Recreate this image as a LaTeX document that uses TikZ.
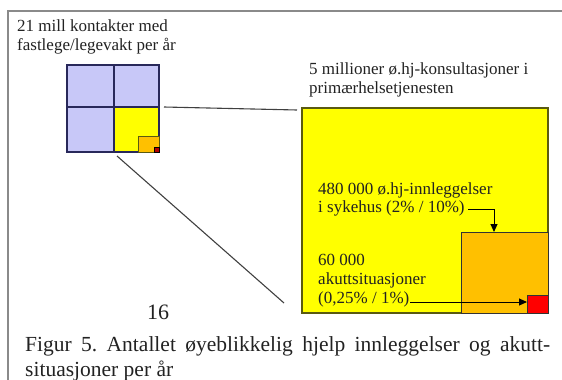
\documentclass[tikz,border=0pt]{standalone}
\usepackage{fontspec}
\setmainfont{Liberation Serif}
\usetikzlibrary{arrows.meta}
\frenchspacing
\definecolor{lav}{HTML}{C8C8F8}
\definecolor{navy}{HTML}{28285A}
\definecolor{ylw}{HTML}{FFFF00}
\definecolor{org}{HTML}{FFC000}
\definecolor{rd}{HTML}{FF0000}
\definecolor{olive}{HTML}{5A5A10}
\definecolor{framegray}{HTML}{8A8A8A}
\definecolor{txt}{HTML}{222222}
\tikzset{
  box/.style={anchor=north west, inner sep=0pt, outer sep=0pt},
  quad/.style={box, draw=navy, line width=1.3pt, fill=lav},
  lbl/.style={anchor=base west, inner sep=0pt, align=left, text=txt,
              font=\fontsize{17}{19}\selectfont},
  capt/.style={anchor=base west, inner sep=0pt, text=txt,
              font=\fontsize{21.5}{26}\selectfont},
  conn/.style={draw=black!75, line width=1.1pt},
  arr/.style={draw=black, line width=1pt, -{Triangle[length=8pt,width=7pt]}}
}
\begin{document}
\begin{tikzpicture}[x=1pt,y=-1pt]
\useasboundingbox (0,0) rectangle (562,380);
% frame
\coordinate (ftr) at (562,11);
\coordinate (ftl) at (8,11);
\coordinate (fbl) at (8,380);
\draw[framegray, line width=1.2pt] (ftr) -- (ftl) -- (fbl);

% small square
\node[quad, minimum width=47pt, minimum height=42pt] (q1) at (67,65) {};
\node[quad, minimum width=45pt, minimum height=42pt] (q2) at (114,65) {};
\node[quad, minimum width=47pt, minimum height=45pt] (q3) at (67,107) {};
\node[quad, minimum width=45pt, minimum height=45pt, fill=ylw] (q4) at (114,107) {};
\node[box, draw=olive, line width=0.8pt, fill=org, minimum width=21pt, minimum height=16pt] (so) at (138,136) {};
\node[box, draw=black, line width=0.6pt, fill=rd!70!black, minimum width=5pt, minimum height=5pt] (sr) at (154,147) {};

% big squares
\node[box, draw=olive, line width=1.2pt, fill=ylw, minimum width=246pt, minimum height=205pt] (big) at (302,108) {};
\node[box, draw=black!80, line width=1pt, fill=org, minimum width=87pt, minimum height=81pt] (bo) at (461,232) {};
\node[box, draw=black!80, line width=0.8pt, fill=rd, minimum width=21pt, minimum height=18pt] (br) at (527,295) {};

% connectors between small and big
\coordinate (l1a) at (164,107);
\coordinate (l1b) at (297,110);
\draw[conn] (l1a) -- (l1b);
\coordinate (l2a) at (117,156);
\coordinate (l2b) at (284,303);
\draw[conn] (l2a) -- (l2b);

% labels (anchor = baseline of the last line)
\node[lbl] (la) at (17,50) {21 mill kontakter med\\fastlege/legevakt per år};
\node[lbl] (lb) at (309,93) {5 millioner ø.hj-konsultasjoner i\\primærhelsetjenesten};
\node[lbl, font=\fontsize{17}{17.5}\selectfont] (lc) at (318,212) {480 000 ø.hj-innleggelser\\i sykehus (2\% / 10\%)};
\node[lbl] (ld) at (318,303) {60 000\\akuttsituasjoner\\(0,25\% / 1\%)};

% arrows
\coordinate (cs) at (468,209);
\coordinate (ct) at (494,232);
\draw[arr] (cs) -| (ct);
\coordinate (ds) at (410,302);
\draw[arr] (ds) -- (ds -| br.west);

% page number and caption
\node[anchor=base, inner sep=0pt, text=txt, font=\fontsize{22}{26}\selectfont] (pg) at (158,319) {16};
\node[capt] (c1) at (25,351) {\makebox[525pt][s]{Figur 5. Antallet øyeblikkelig hjelp innleggelser og akutt-}};
\node[capt] (c2) at (25,376) {situasjoner per år};
\end{tikzpicture}
\end{document}
